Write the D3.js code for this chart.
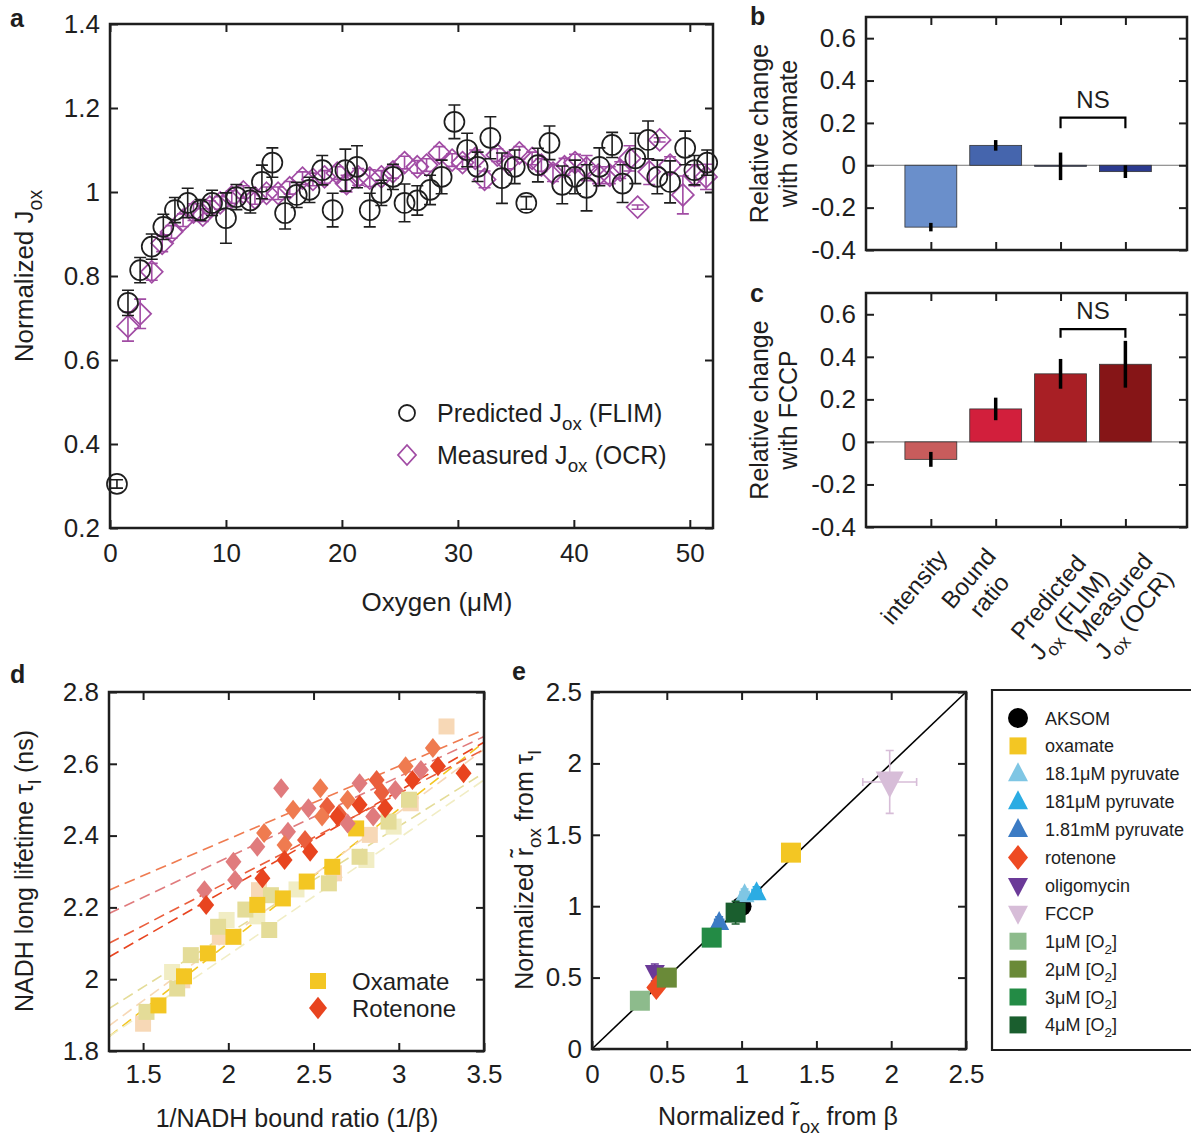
<!DOCTYPE html>
<html>
<head>
<meta charset="utf-8">
<script src="https://cdn.jsdelivr.net/npm/d3@7"></script>
<style>
  body { margin: 0; background: #fff; }
  svg { font-family: "Liberation Sans", Arial, Helvetica, sans-serif; }
</style>
</head>
<body>
<svg id="fig" width="1191" height="1136"></svg>
<script>
// ---------- panel a : normalized J_ox vs oxygen ----------
const predX = [0.6,1.55,2.6,3.6,4.6,5.6,6.7,7.8,8.8,10,10.9,12.1,13.1,14,15.1,16.1,17.2,18.3,19.2,20.3,21.3,22.4,23.4,24.4,25.4,26.5,27.6,28.6,29.7,30.8,31.7,32.8,33.8,34.9,35.9,36.9,37.9,39,40.1,41.1,42.2,43.3,44.2,45.3,46.4,47.2,48.3,49.6,50.4,51.5];
const predY = [0.305,0.736,0.814,0.87,0.917,0.957,0.974,0.957,0.974,0.938,0.988,0.98,1.024,1.07,0.95,0.993,1.005,1.052,0.957,1.052,1.06,0.957,0.998,1.036,0.974,0.98,1.005,1.036,1.167,1.1,1.06,1.129,1.033,1.06,0.974,1.064,1.117,1.017,1.036,1.01,1.06,1.112,1.02,1.08,1.124,1.036,1.024,1.105,1.052,1.07];
const predErr = [0.01,0.03,0.03,0.03,0.03,0.03,0.035,0.025,0.03,0.06,0.03,0.03,0.04,0.035,0.038,0.03,0.03,0.035,0.04,0.05,0.05,0.04,0.03,0.03,0.045,0.035,0.035,0.04,0.04,0.04,0.035,0.05,0.06,0.04,0.015,0.04,0.04,0.045,0.04,0.055,0.045,0.03,0.045,0.06,0.045,0.04,0.05,0.04,0.035,0.03];
const measX = [1.55,2.6,3.6,4.5,5.3,6.3,7.2,8.0,8.6,9.5,10.5,11.5,12.5,13.5,14.5,15.5,16.6,17.5,18.5,19.6,20.4,21.4,22.4,23.4,24.4,25.4,26.5,27.3,28.4,29.5,30.4,31.5,32.3,33.4,34.3,35.3,36.4,37.2,38.2,39.2,40.1,41.1,42.1,43.1,44,44.8,45.5,46.5,47.4,48.3,49.4,50.4,51.4];
const measY = [0.68,0.71,0.81,0.878,0.905,0.933,0.952,0.945,0.964,0.974,0.988,1.0,0.986,0.997,0.997,1.01,1.033,1.03,1.036,1.045,1.02,1.036,1.033,1.036,1.048,1.07,1.06,1.064,1.093,1.076,1.07,1.08,1.03,1.088,1.07,1.093,1.08,1.064,1.045,1.06,1.07,1.057,1.04,1.04,1.052,1.08,0.964,1.048,1.124,1.064,0.993,1.04,1.036];
const measErr = [0.035,0.035,0.02,0.02,0.015,0.015,0.02,0.015,0.015,0.015,0.015,0.015,0.015,0.015,0.015,0.015,0.015,0.015,0.015,0.015,0.02,0.02,0.02,0.015,0.015,0.015,0.015,0.015,0.015,0.015,0.015,0.02,0.02,0.015,0.015,0.015,0.015,0.015,0.02,0.02,0.02,0.03,0.02,0.02,0.02,0.03,0.005,0.03,0.005,0.02,0.045,0.025,0.03];
const aXTicks = [0,10,20,30,40,50];
const aYTicks = [0.2,0.4,0.6,0.8,1,1.2,1.4];

// ---------- panels b, c : relative change bars ----------
const barLabelLines = [["intensity"],["Bound","ratio"],["Predicted","J_{ox} (FLIM)"],["Measured","J_{ox} (OCR)"]];
const oxaVals = [-0.292,0.094,-0.005,-0.03];
const oxaErr = [0.02,0.025,0.065,0.03];
const oxaColors = ["#6a8fcb","#4565ad","#3a4fa0","#2b3a8f"];
const fccpVals = [-0.082,0.155,0.32,0.365];
const fccpErr = [0.035,0.053,0.07,0.11];
const fccpColors = ["#c85c5c","#d21f3c","#a81f25","#861517"];
const barYTicks = [-0.4,-0.2,0,0.2,0.4,0.6];

// ---------- panel d : tau_l vs 1/beta ----------
const dOxColors = ["#f3c623","#e4dc98","#f1edc4","#f7d8b6"];
const dOxX = [[1.59,1.74,1.88,2.03,2.17,2.32,2.46,2.61,2.75],[1.52,1.70,1.78,1.94,2.10,2.24,2.25,2.59,2.77,2.94,3.06],[1.67,1.99,2.17,2.40,2.81,2.97],[1.5,1.73,1.95,2.18,2.62,2.83,3.07,3.28]];
const dOxY = [[1.927,2.008,2.072,2.118,2.207,2.225,2.272,2.313,2.42],[1.909,1.974,2.067,2.146,2.194,2.137,2.234,2.267,2.341,2.439,2.5],[2.02,2.165,2.175,2.25,2.332,2.425],[1.876,1.997,2.118,2.248,2.295,2.402,2.49,2.704]];
const dOxFit = [[1.84,2.66],[1.918,2.575],[1.84,2.555],[1.87,2.64]];
const dRotColors = ["#e8441f","#ef7b50","#e07b7d","#ea5e3c"];
const dRotX = [[1.87,2.20,2.33,2.48,2.64,2.77,2.92,3.08,3.23,3.38],[2.21,2.33,2.38,2.54,2.55,2.70,3.04,3.20],[1.86,2.03,2.04,2.17,2.31,2.35,2.47,2.70,2.77,2.85,2.98,3.13],[2.45,2.58,2.87,2.65,2.90]];
const dRotY = [[2.207,2.281,2.332,2.355,2.453,2.486,2.476,2.555,2.593,2.574],[2.407,2.374,2.472,2.532,2.453,2.5,2.593,2.644],[2.248,2.327,2.276,2.369,2.532,2.411,2.476,2.434,2.546,2.453,2.527,2.583],[2.388,2.481,2.555,2.46,2.52]];
const dRotFit = [[2.062,2.66],[2.248,2.695],[2.183,2.676],[2.1,2.64]];
const dFitX = [1.3,3.5];
const dXTicks = [1.5,2,2.5,3,3.5];
const dYTicks = [1.8,2,2.2,2.4,2.6,2.8];

// ---------- panel e : r_ox from tau vs from beta ----------
const eNames = ["AKSOM","oxamate","18.1μM pyruvate","181μM pyruvate","1.81mM pyruvate","rotenone","oligomycin","FCCP","1μM [O_{2}]","2μM [O_{2}]","3μM [O_{2}]","4μM [O_{2}]"];
const eColors = ["#000000","#f3c623","#7fc6e4","#2bace3","#3b7bc4","#ee4a22","#6b3a98","#d7bdd8","#8dbb8c","#6a8a38","#238b45","#1a5e2e"];
const eShapes = ["circle","square","tri","tri","tri","diamond","triDown","triDown","square","square","square","square"];
const eX = [1.0,1.33,1.02,1.10,0.85,0.43,0.42,1.99,0.32,0.50,0.80,0.96];
const eY = [1.0,1.375,1.08,1.095,0.885,0.43,0.535,1.87,0.338,0.50,0.78,0.955];
const eXErr = [0.02,0.03,0.03,0.03,0.03,0.02,0.02,0.18,0.02,0.02,0.02,0.03];
const eYErr = [0.04,0.06,0.04,0.04,0.04,0.03,0.06,0.22,0.03,0.03,0.03,0.08];
const eTicks = [0,0.5,1,1.5,2,2.5];

const FONT = '"Liberation Sans", Arial, Helvetica, sans-serif';
const ink = "#1e1e1e";
const svg = d3.select("#fig");
const num = d => d3.format("~g")(d).replace("\u2212", "-");

// text with _{sub} parts
function rich(t, s, fs) {
  const shift = fs * 0.33;
  let down = false;
  s.split(/(_\{[^}]*\})/).forEach(p => {
    if (!p) return;
    if (p.startsWith("_{")) {
      t.append("tspan").attr("font-size", fs * 0.75).attr("dy", shift).text(p.slice(2, -1));
      down = true;
    } else {
      const ts = t.append("tspan").text(p);
      if (down) { ts.attr("dy", -shift); down = false; }
    }
  });
  return t;
}

function label(x, y, s, fs, rot, anchor) {
  const t = svg.append("text")
    .attr("transform", `translate(${x},${y})` + (rot ? ` rotate(${rot})` : ""))
    .attr("text-anchor", anchor || "middle")
    .attr("font-size", fs).attr("fill", ink);
  return rich(t, s, fs);
}

// boxed axes with inward ticks on all four sides
function frame(x, y, xt, yt, xfmt, xpad) {
  const [l, r] = x.range(), [b, t] = y.range();
  const g = svg.append("g");
  g.append("g").attr("transform", `translate(0,${b})`)
    .call(d3.axisBottom(x).tickValues(xt).tickSizeInner(-8).tickSizeOuter(0).tickPadding(xpad).tickFormat(xfmt));
  g.append("g").attr("transform", `translate(0,${t})`)
    .call(d3.axisTop(x).tickValues(xt).tickSizeInner(-8).tickSizeOuter(0).tickFormat(""));
  g.append("g").attr("transform", `translate(${l},0)`)
    .call(d3.axisLeft(y).tickValues(yt).tickSizeInner(-8).tickSizeOuter(0).tickPadding(10).tickFormat(num));
  g.append("g").attr("transform", `translate(${r},0)`)
    .call(d3.axisRight(y).tickValues(yt).tickSizeInner(-8).tickSizeOuter(0).tickFormat(""));
  g.selectAll(".domain").remove();
  g.selectAll(":scope > g").attr("font-family", FONT).attr("font-size", 26);
  g.selectAll(".tick line").attr("stroke", ink).attr("stroke-width", 2);
  g.selectAll(".tick text").attr("fill", ink);
  g.append("rect").attr("x", l).attr("y", t).attr("width", r - l).attr("height", b - t)
    .attr("fill", "none").attr("stroke", ink).attr("stroke-width", 2.5);
}

function shape(type, s) {
  if (type === "square") return `M${-s},${-s}h${2*s}v${2*s}h${-2*s}Z`;
  if (type === "diamond") return `M0,${-s*1.25}L${s},0L0,${s*1.25}L${-s},0Z`;
  if (type === "tri") return `M0,${-s*1.15}L${s},${s*0.75}L${-s},${s*0.75}Z`;
  if (type === "triDown") return `M0,${s*1.15}L${s},${-s*0.75}L${-s},${-s*0.75}Z`;
  return d3.symbol(d3.symbolCircle, Math.PI * s * s)();
}

// panel letters
[["a",10,27],["b",750,25],["c",750,302],["d",10,683],["e",512,680]].forEach(([s, x, y]) =>
  svg.append("text").attr("x", x).attr("y", y).attr("font-size", 25).attr("font-weight", "bold").attr("fill", ink).text(s));

// ================= panel a =================
const ax = d3.scaleLinear().domain([0, 52]).range([110, 713]);
const ay = d3.scaleLinear().domain([0.2, 1.4]).range([528, 24]);
const purple = "#a14ca4";

function errBars(g, xs, ys, es, color, sx, sy) {
  xs.forEach((v, i) => {
    const x = sx(v), y0 = sy(ys[i] - es[i]), y1 = sy(ys[i] + es[i]);
    g.append("path").attr("d", `M${x},${y0}V${y1}M${x-6},${y0}h12M${x-6},${y1}h12`)
      .attr("stroke", color).attr("stroke-width", 1.6).attr("fill", "none");
  });
}
const ga = svg.append("g");
errBars(ga, measX, measY, measErr, purple, ax, ay);
ga.selectAll("path.m").data(measX).join("path").attr("class", "m")
  .attr("transform", (d, i) => `translate(${ax(d)},${ay(measY[i])})`)
  .attr("d", `M0,-11L11,0L0,11L-11,0Z`).attr("fill", "none").attr("stroke", purple).attr("stroke-width", 1.7);
errBars(ga, predX, predY, predErr, ink, ax, ay);
ga.selectAll("circle").data(predX).join("circle")
  .attr("cx", d => ax(d)).attr("cy", (d, i) => ay(predY[i])).attr("r", 10)
  .attr("fill", "none").attr("stroke", ink).attr("stroke-width", 1.7);
frame(ax, ay, aXTicks, aYTicks, num, 16);
label(33, 276, "Normalized J_{ox}", 26, -90);
label(437, 611, "Oxygen (μM)", 26);
// legend
svg.append("circle").attr("cx", 407).attr("cy", 413).attr("r", 8).attr("fill", "none").attr("stroke", ink).attr("stroke-width", 1.8);
svg.append("path").attr("transform", "translate(407,455)").attr("d", "M0,-10L9,0L0,10L-9,0Z").attr("fill", "none").attr("stroke", purple).attr("stroke-width", 1.8);
label(437, 422, "Predicted J_{ox} (FLIM)", 25, 0, "start");
label(437, 464, "Measured J_{ox} (OCR)", 25, 0, "start");

// ================= panels b, c =================
const bx = d3.scaleLinear().domain([0, 4.95]).range([866, 1187]);
function barPanel(top, bottom, vals, errs, colors, brY, brLeg, yl2) {
  const y = d3.scaleLinear().domain([-0.4, 0.7]).range([bottom, top]);
  const g = svg.append("g");
  g.append("line").attr("x1", bx(0)).attr("x2", bx(4.95)).attr("y1", y(0)).attr("y2", y(0)).attr("stroke", "#777").attr("stroke-width", 1);
  vals.forEach((v, i) => {
    const c = bx(i + 1), w = bx(0.8) - bx(0);
    g.append("rect").attr("x", c - w / 2).attr("width", w)
      .attr("y", y(Math.max(v, 0))).attr("height", Math.abs(y(v) - y(0)))
      .attr("fill", colors[i]).attr("stroke", "#333").attr("stroke-width", 0.8);
    g.append("line").attr("x1", c).attr("x2", c).attr("y1", y(v - errs[i])).attr("y2", y(v + errs[i]))
      .attr("stroke", "#000").attr("stroke-width", 3.5);
  });
  // NS bracket between predicted and measured
  const x3 = bx(3), x4 = bx(4);
  g.append("path").attr("d", `M${x3},${y(brLeg)}V${y(brY)}H${x4}V${y(brLeg)}`)
    .attr("fill", "none").attr("stroke", "#000").attr("stroke-width", 2.2);
  g.append("text").attr("x", (x3 + x4) / 2).attr("y", y(brY) - 10).attr("text-anchor", "middle")
    .attr("font-size", 24).attr("fill", ink).text("NS");
  frame(bx, y, [1, 2, 3, 4], barYTicks, "", 0);
  const mid = (top + bottom) / 2;
  label(768, mid, "Relative change", 25, -90);
  label(797, mid, yl2, 25, -90);
  return y;
}
barPanel(17, 250, oxaVals, oxaErr, oxaColors, 0.225, 0.175, "with oxamate");
const cy = barPanel(293, 527, fccpVals, fccpErr, fccpColors, 0.53, 0.49, "with FCCP");
// rotated category labels under panel c; lines carrying a subscript sit a bit lower
barLabelLines.forEach((lines, i) => {
  const sub = lines.some(s => s.includes("_{"));
  const ox = sub ? -2 : -17, oy = sub ? 79 : 60;
  const g = svg.append("g").attr("transform", `translate(${bx(i + 1) + ox},${cy(-0.4) + oy}) rotate(-50)`);
  lines.forEach((ln, j) => {
    const t = g.append("text").attr("text-anchor", "middle").attr("font-size", 24).attr("fill", ink)
      .attr("y", (j - (lines.length - 1) / 2) * 27).attr("dy", "0.35em");
    rich(t, ln, 24);
  });
});

// ================= panel d =================
const dx = d3.scaleLinear().domain([1.3, 3.5]).range([109, 484]);
const dy = d3.scaleLinear().domain([1.8, 2.8]).range([1051, 692]);
const gd = svg.append("g");
function fits(fitsArr, colors) {
  fitsArr.forEach((f, i) => gd.append("line")
    .attr("x1", dx(dFitX[0])).attr("x2", dx(dFitX[1])).attr("y1", dy(f[0])).attr("y2", dy(f[1]))
    .attr("stroke", colors[i]).attr("stroke-width", 1.6).attr("stroke-dasharray", "11,6"));
}
fits(dOxFit, dOxColors);
fits(dRotFit, dRotColors);
[3, 2, 1, 0].forEach(k => dOxX[k].forEach((v, i) => gd.append("path")
  .attr("transform", `translate(${dx(v)},${dy(dOxY[k][i])})`).attr("d", shape("square", 8)).attr("fill", dOxColors[k])));
[3, 2, 1, 0].forEach(k => dRotX[k].forEach((v, i) => gd.append("path")
  .attr("transform", `translate(${dx(v)},${dy(dRotY[k][i])})`).attr("d", shape("diamond", 8)).attr("fill", dRotColors[k])));
frame(dx, dy, dXTicks, dYTicks, num, 14);
svg.append("path").attr("transform", "translate(318,981)").attr("d", shape("square", 8)).attr("fill", dOxColors[0]);
svg.append("path").attr("transform", "translate(318,1008)").attr("d", shape("diamond", 9)).attr("fill", dRotColors[0]);
label(352, 990, "Oxamate", 24, 0, "start");
label(352, 1017, "Rotenone", 24, 0, "start");
label(33, 871, "NADH long lifetime τ_{l} (ns)", 25, -90);
label(297, 1127, "1/NADH bound ratio (1/β)", 25);

// ================= panel e =================
const ex = d3.scaleLinear().domain([0, 2.5]).range([592, 966]);
const ey = d3.scaleLinear().domain([0, 2.5]).range([1049, 692]);
const ge = svg.append("g");
ge.append("line").attr("x1", ex(0)).attr("y1", ey(0)).attr("x2", ex(2.5)).attr("y2", ey(2.5)).attr("stroke", "#000").attr("stroke-width", 1.6);
const eOrder = [0, 7, 1, 2, 3, 4, 6, 5, 8, 9, 10, 11];
eOrder.forEach(i => {
  const x = ex(eX[i]), y = ey(eY[i]);
  const hx = ex(eX[i] + eXErr[i]) - x, hy = y - ey(eY[i] + eYErr[i]);
  ge.append("path").attr("d", `M${x - hx},${y}H${x + hx}M${x - hx},${y - 4}v8M${x + hx},${y - 4}v8M${x},${y - hy}V${y + hy}M${x - 4},${y - hy}h8M${x - 4},${y + hy}h8`)
    .attr("stroke", eColors[i]).attr("stroke-width", 1.6).attr("fill", "none");
  const s = i === 7 ? 14 : 10;
  ge.append("path").attr("transform", `translate(${x},${y})`).attr("d", shape(eShapes[i], s)).attr("fill", eColors[i]);
});
frame(ex, ey, eTicks, eTicks, num, 16);
label(533, 870, "Normalized r\u0303_{ox} from τ_{l}", 25, -90);
label(778, 1125, "Normalized r\u0303_{ox} from β", 25);
// legend box (right side runs off the figure)
svg.append("path").attr("d", "M1200,690H992V1050H1200").attr("fill", "none").attr("stroke", ink).attr("stroke-width", 2.2);
eNames.forEach((n, i) => {
  const yy = 718 + i * 27.9;
  const s = eShapes[i] === "square" ? 8.5 : 10;
  svg.append("path").attr("transform", `translate(1018,${yy})`).attr("d", shape(eShapes[i], s)).attr("fill", eColors[i]);
  label(1045, yy + 6.5, n, 18, 0, "start");
});
</script>
</body>
</html>
